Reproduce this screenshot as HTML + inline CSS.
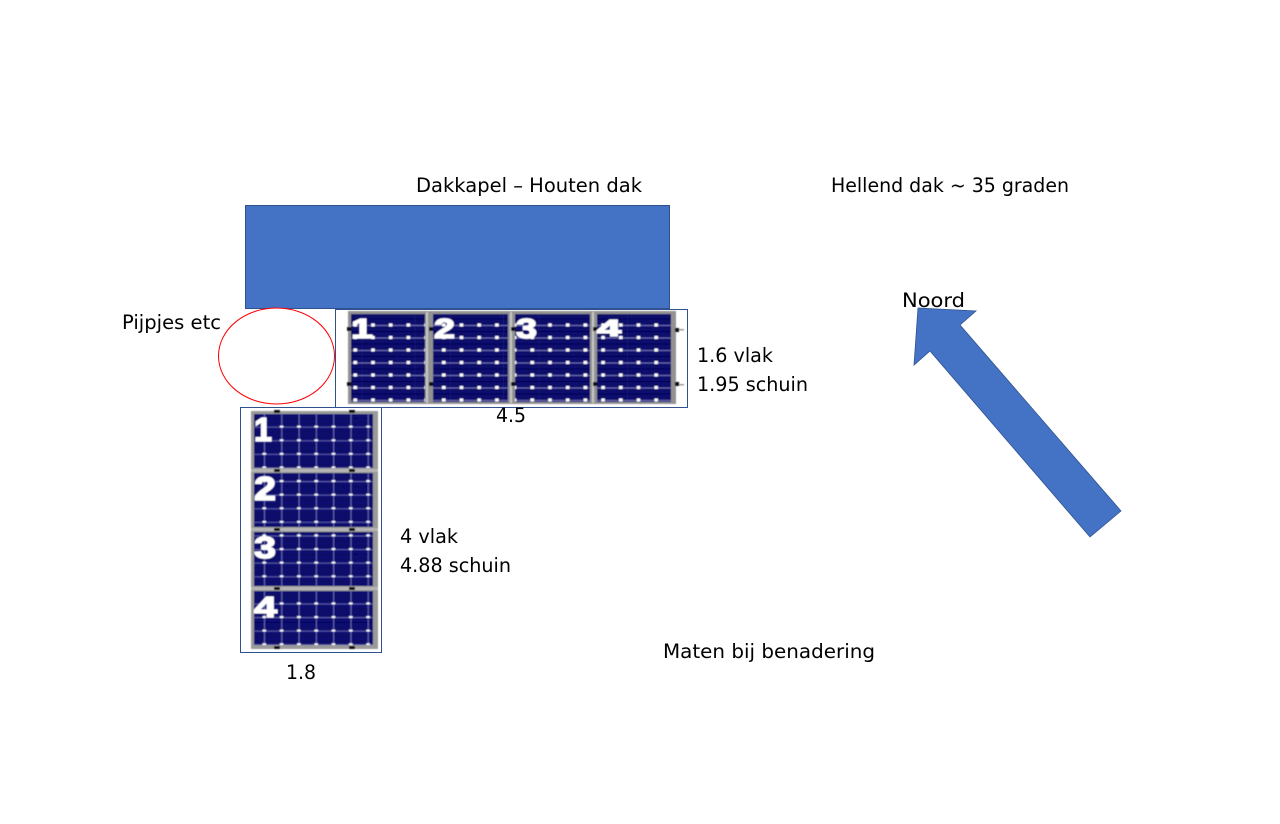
<!DOCTYPE html>
<html><head><meta charset="utf-8"><style>
html,body{margin:0;padding:0;background:#fff;width:1280px;height:824px;overflow:hidden}
svg{display:block}
.t{font-family:"DejaVu Sans","Liberation Sans",sans-serif;font-size:19.500px;fill:#000}
.n{font-family:"Liberation Sans",sans-serif;font-weight:bold;fill:#fff;stroke:#fff;stroke-width:1.2}
</style></head><body>
<svg width="1280" height="824" viewBox="0 0 1280 824" xmlns="http://www.w3.org/2000/svg">
<defs>
<filter id="b" x="-5%" y="-5%" width="110%" height="110%"><feGaussianBlur stdDeviation="0.45"/></filter>
<pattern id="h" x="353" y="312.500" width="17.700" height="12.500" patternUnits="userSpaceOnUse">
<rect width="17.700" height="12.500" fill="#07076a"/>
<rect x="8.500" width="1" height="12.500" fill="#161680"/>
<rect y="0" width="17.700" height="1" fill="#6a6ab4"/>
<rect x="0" y="6" width="17.700" height="1" fill="#04045a"/>
<rect x="0.500" y="-1.500" width="3.600" height="3" fill="#fff"/>
<rect x="0.500" y="11" width="3.600" height="3" fill="#fff"/>
</pattern>
<pattern id="v" x="254" y="414" width="17.300" height="13.600" patternUnits="userSpaceOnUse">
<rect width="17.300" height="13.600" fill="#0a0a70"/>
<rect y="4" width="17.300" height="1" fill="#05055a"/>
<rect y="9" width="17.300" height="1" fill="#05055a"/>
<rect x="10" width="1" height="13.600" fill="#7070b8"/>
<rect y="12.800" width="17.300" height="0.800" fill="#6c6cb4"/>
<rect x="8.500" y="11.700" width="3.600" height="3" fill="#fff"/>
</pattern>
</defs>

<rect x="245.500" y="205.500" width="424" height="103" fill="#4472c4" stroke="#2f528f"/>

<!-- horizontal panel image -->
<rect x="335.500" y="309.500" width="352" height="98" fill="#fff" stroke="#2f528f"/>
<g filter="url(#b)">
<rect x="348" y="311" width="328" height="93" fill="#929292"/>
<rect x="351" y="314" width="74" height="88" fill="url(#h)"/>
<rect x="433" y="314" width="75" height="88" fill="url(#h)"/>
<rect x="515" y="314" width="75" height="88" fill="url(#h)"/>
<rect x="597" y="314" width="74" height="88" fill="url(#h)"/>
<rect x="426" y="312" width="2" height="91" fill="#c8c8c8"/>
<rect x="510" y="312" width="2" height="91" fill="#c8c8c8"/>
<rect x="592" y="312" width="2" height="91" fill="#c8c8c8"/>
<g fill="#111">
<rect x="347" y="327" width="4" height="4"/><rect x="347" y="382" width="4" height="4"/>
<rect x="429" y="327" width="4" height="4"/><rect x="429" y="382" width="4" height="4"/>
<rect x="511" y="327" width="4" height="4"/><rect x="511" y="382" width="4" height="4"/>
<rect x="593" y="327" width="4" height="4"/><rect x="593" y="382" width="4" height="4"/>
<rect x="675" y="328" width="4" height="4"/><rect x="675" y="382" width="4" height="4"/>
</g>
<rect x="679" y="329" width="5" height="1.500" fill="#999"/><rect x="679" y="384" width="5" height="1.500" fill="#999"/>
<text class="n" x="351" y="338" font-size="28" textLength="22" lengthAdjust="spacingAndGlyphs">1</text>
<text class="n" x="434" y="338" font-size="28" textLength="21" lengthAdjust="spacingAndGlyphs">2</text>
<text class="n" x="516" y="338" font-size="28" textLength="21" lengthAdjust="spacingAndGlyphs">3</text>
<text class="n" x="597" y="336" font-size="23" textLength="24" lengthAdjust="spacingAndGlyphs">4</text>
</g>

<!-- vertical panel image -->
<rect x="240.500" y="407.500" width="141" height="245" fill="#fff" stroke="#2f528f"/>
<g filter="url(#b)">
<rect x="251" y="411" width="127" height="238" fill="#9a9a9a"/>
<rect x="254" y="414" width="119" height="54" fill="url(#v)"/>
<rect x="254" y="473" width="119" height="54" fill="url(#v)"/>
<rect x="254" y="532" width="119" height="54" fill="url(#v)"/>
<rect x="254" y="591" width="119" height="54" fill="url(#v)"/>
<rect x="251" y="469" width="127" height="3" fill="#b5b5b5"/>
<rect x="251" y="528" width="127" height="3" fill="#b5b5b5"/>
<rect x="251" y="587" width="127" height="3" fill="#b5b5b5"/>
<g fill="#111">
<rect x="274" y="410" width="6" height="3"/><rect x="349" y="410" width="6" height="3"/>
<rect x="274" y="469" width="6" height="3"/><rect x="349" y="469" width="6" height="3"/>
<rect x="274" y="528" width="6" height="3"/><rect x="349" y="528" width="6" height="3"/>
<rect x="274" y="587" width="6" height="3"/><rect x="349" y="587" width="6" height="3"/>
<rect x="274" y="646" width="6" height="3"/><rect x="349" y="646" width="6" height="3"/>
</g>
<text class="n" x="254" y="441" font-size="33" textLength="18" lengthAdjust="spacingAndGlyphs">1</text>
<text class="n" x="254" y="500" font-size="33" textLength="22" lengthAdjust="spacingAndGlyphs">2</text>
<text class="n" x="254" y="558" font-size="31" textLength="22" lengthAdjust="spacingAndGlyphs">3</text>
<text class="n" x="254" y="617" font-size="29" textLength="23" lengthAdjust="spacingAndGlyphs">4</text>
</g>

<ellipse cx="276.500" cy="356" rx="58" ry="48" fill="#fff" stroke="#f00" stroke-width="1"/>

<polygon points="918,308 976,311 960,325 1121,511 1090,537 930,351 914,365" fill="#4472c4" stroke="#2f528f" stroke-width="0.800"/>

<text class="t" x="416" y="192" textLength="226" lengthAdjust="spacingAndGlyphs">Dakkapel – Houten dak</text>
<text class="t" x="831" y="192" textLength="238" lengthAdjust="spacingAndGlyphs">Hellend dak ~ 35 graden</text>
<text class="t" x="902" y="307" textLength="63" lengthAdjust="spacingAndGlyphs">Noord</text>
<text class="t" x="122" y="329" textLength="99" lengthAdjust="spacingAndGlyphs">Pijpjes etc</text>
<text class="t" x="697" y="362" textLength="76" lengthAdjust="spacingAndGlyphs">1.6 vlak</text>
<text class="t" x="697" y="391" textLength="111" lengthAdjust="spacingAndGlyphs">1.95 schuin</text>
<text class="t" x="496" y="422" textLength="30" lengthAdjust="spacingAndGlyphs">4.5</text>
<text class="t" x="400" y="543" textLength="58" lengthAdjust="spacingAndGlyphs">4 vlak</text>
<text class="t" x="400" y="572" textLength="111" lengthAdjust="spacingAndGlyphs">4.88 schuin</text>
<text class="t" x="663" y="658" textLength="212" lengthAdjust="spacingAndGlyphs">Maten bij benadering</text>
<text class="t" x="286" y="679" textLength="30" lengthAdjust="spacingAndGlyphs">1.8</text>
</svg>
</body></html>
